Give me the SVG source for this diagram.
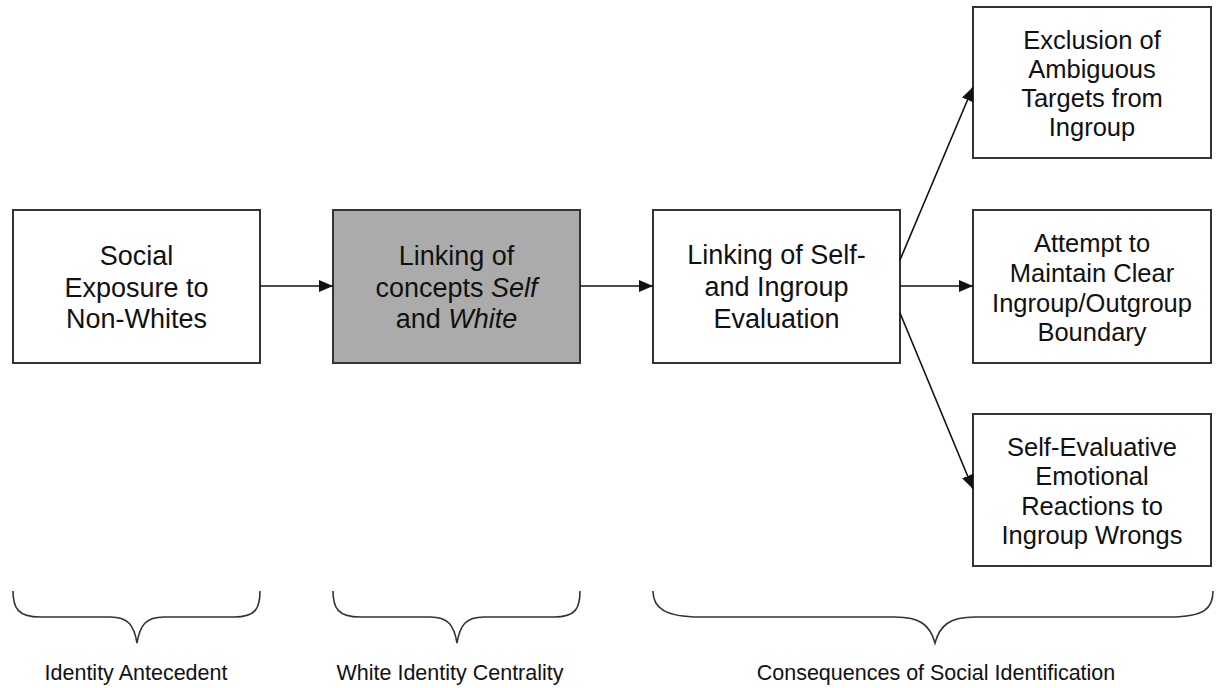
<svg xmlns="http://www.w3.org/2000/svg" width="1216" height="688" viewBox="0 0 1216 688">
<style>
.box{fill:#fff;stroke:#333;stroke-width:2}
.gray{fill:#ababab}
.t{font-family:"Liberation Sans",Arial,sans-serif;font-size:27px;fill:#111;text-anchor:middle}
.r{font-size:25.5px}
.lab{font-family:"Liberation Sans",Arial,sans-serif;font-size:21.5px;fill:#111;text-anchor:middle}
.c{stroke:#111;stroke-width:1.6;fill:none}
.brace{stroke:#333;stroke-width:1.6;fill:none}
</style>
<defs>
<marker id="ah" viewBox="0 0 14 12" refX="14" refY="6" markerWidth="14" markerHeight="12" markerUnits="userSpaceOnUse" orient="auto">
<path d="M0,0 L14,6 L0,12 Z" fill="#111"/>
</marker>
</defs>
<rect width="1216" height="688" fill="#fff"/>
<g id="n1"><rect class="box" x="13" y="210" width="247" height="153"/>
<text class="t" x="136.5" y="265">Social</text><text class="t" x="136.5" y="297">Exposure to</text><text class="t" x="136.5" y="328">Non-Whites</text></g>
<g id="n2"><rect class="box gray" x="333" y="210" width="247" height="153"/>
<text class="t" x="456.5" y="265">Linking of</text><text class="t" x="456.5" y="297">concepts <tspan font-style="italic">Self</tspan></text><text class="t" x="456.5" y="328">and <tspan font-style="italic">White</tspan></text></g>
<g id="n3"><rect class="box" x="653" y="210" width="247" height="153"/>
<text class="t" x="776.5" y="264">Linking of Self-</text><text class="t" x="776.5" y="296">and Ingroup</text><text class="t" x="776.5" y="328">Evaluation</text></g>
<g id="n4"><rect class="box" x="973" y="7" width="238" height="151"/>
<text class="t r" x="1092" y="49">Exclusion of</text><text class="t r" x="1092" y="78">Ambiguous</text><text class="t r" x="1092" y="107">Targets from</text><text class="t r" x="1092" y="136">Ingroup</text></g>
<g id="n5"><rect class="box" x="973" y="210" width="238" height="153"/>
<text class="t r" x="1092" y="252">Attempt to</text><text class="t r" x="1092" y="282">Maintain Clear</text><text class="t r" x="1092" y="312">Ingroup/Outgroup</text><text class="t r" x="1092" y="341">Boundary</text></g>
<g id="n6"><rect class="box" x="973" y="414" width="238" height="152"/>
<text class="t r" x="1092" y="456">Self-Evaluative</text><text class="t r" x="1092" y="485">Emotional</text><text class="t r" x="1092" y="515">Reactions to</text><text class="t r" x="1092" y="544">Ingroup Wrongs</text></g>
<g id="connectors">
<line class="c" x1="260" y1="286" x2="333" y2="286" marker-end="url(#ah)"/>
<line class="c" x1="580" y1="286" x2="653" y2="286" marker-end="url(#ah)"/>
<line class="c" x1="900" y1="286" x2="973" y2="286" marker-end="url(#ah)"/>
<line class="c" x1="900" y1="260" x2="973" y2="87" marker-end="url(#ah)"/>
<line class="c" x1="900" y1="313" x2="973" y2="489" marker-end="url(#ah)"/>
</g>
<g id="braces">
<path class="brace" d="M13,591 C13,608 18,617 40,617 L110,617 C128,617 134,625 137,643 C140,625 146,617 164,617 L234,617 C256,617 260,608 260,591"/>
<path class="brace" d="M333,591 C333,608 338,617 360,617 L430,617 C448,617 454,625 457,643 C460,625 466,617 484,617 L554,617 C576,617 580,608 580,591"/>
<path class="brace" d="M653,591 C653,608 665,617 700,617 L895,617 C920,617 930,625 935,643 C940,625 950,617 975,617 L1170,617 C1205,617 1213,608 1213,591"/>
</g>
<g id="labels">
<text class="lab" x="136" y="680">Identity Antecedent</text>
<text class="lab" x="450" y="680">White Identity Centrality</text>
<text class="lab" x="936" y="680">Consequences of Social Identification</text>
</g>
</svg>
